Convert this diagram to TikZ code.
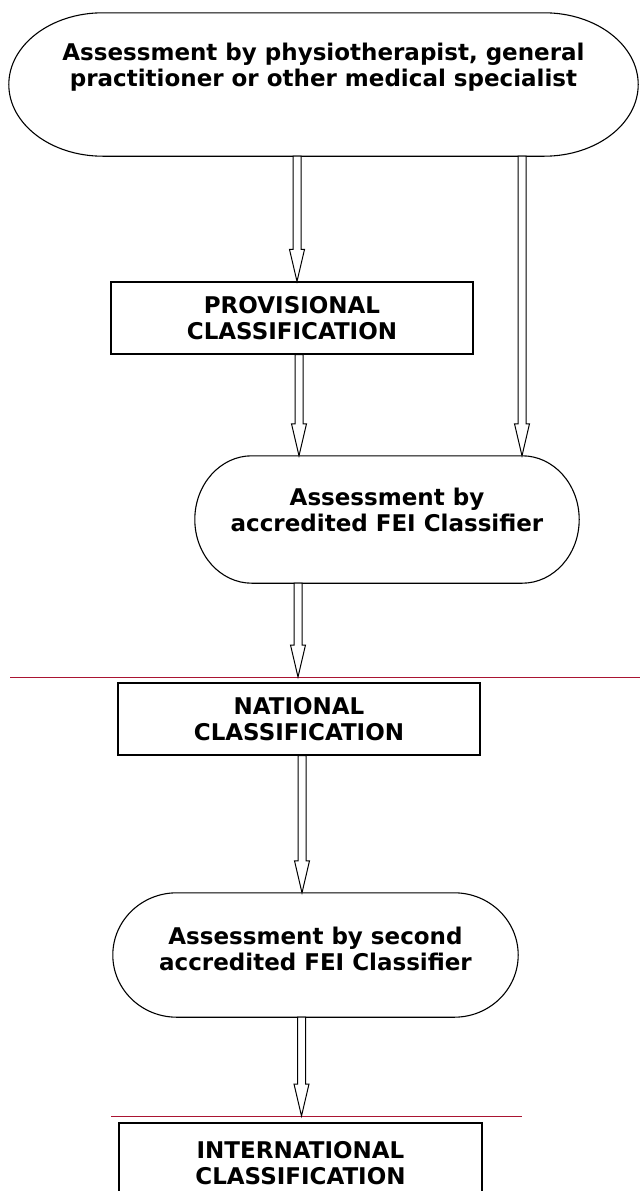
\documentclass[tikz,border=0pt]{standalone}
\usepackage{fontspec}
\setmainfont{DejaVu Sans}
\usetikzlibrary{calc}
\definecolor{rulered}{RGB}{170,20,50}
\tikzset{
  shapeline/.style={draw=black, line width=1.1pt, fill=white},
  arrowline/.style={draw=black, line width=1pt, fill=white, line join=miter},
  ruleline/.style={draw=rulered, line width=1pt},
  shapebox/.style={rectangle, draw=none, inner sep=0pt},
  rectbox/.style={rectangle, draw=black, line width=1.1pt, fill=white, inner sep=0pt, align=center},
  lbl/.style={align=center, inner sep=0pt}
}
\newcommand\harrow[2]{\draw[arrowline] let \p1=#1, \p2=#2 in
  (\x1-4pt,\y1) -- (\x1-4pt,\y2+32pt) -- (\x1-7.5pt,\y2+32pt) -- (\x1,\y2)
  -- (\x1+7.5pt,\y2+32pt) -- (\x1+4pt,\y2+32pt) -- (\x1+4pt,\y1) -- cycle;}
\newcommand\stadium[2]{\draw[shapeline] let \p1=(#1.north), \p2=(#1.south), \n1={(\y1-\y2)/2} in
  ([xshift=#2]#1.north west) -- ([xshift=-#2]#1.north east)
  arc[start angle=90, end angle=-90, x radius=#2, y radius=\n1]
  -- ([xshift=#2]#1.south west)
  arc[start angle=270, end angle=90, x radius=#2, y radius=\n1] -- cycle;}
\begin{document}
\begin{tikzpicture}[x=1pt, y=-1pt, font=\bfseries\fontsize{23}{26}\selectfont]
\useasboundingbox[fill=white] (0,0) rectangle (640,1191);

% shape geometry nodes
\node[shapebox, minimum width=629pt, minimum height=143pt] (s1) at (323.5,84.5) {};
\node[rectbox, minimum width=362pt, minimum height=72pt] (p) at (292,318) {PROVISIONAL\\CLASSIFICATION};
\node[shapebox, minimum width=384pt, minimum height=127pt] (m) at (387,519.5) {};
\coordinate (l1a) at (10,677);
\coordinate (l1b) at (640,677);
\node[rectbox, minimum width=362pt, minimum height=72pt] (n) at (299,719) {NATIONAL\\CLASSIFICATION};
\node[shapebox, minimum width=405pt, minimum height=124pt] (t) at (315.5,955) {};
\coordinate (l2a) at (111,1116);
\coordinate (l2b) at (522,1116);
\node[rectbox, minimum width=363pt, minimum height=80pt] (i) at (300.5,1163) {INTERNATIONAL\\CLASSIFICATION};

% stadium outlines
\stadium{s1}{94pt}
\stadium{m}{57pt}
\stadium{t}{64pt}

% stadium texts
\node[lbl] (s1t) at ([yshift=17pt]s1.center) {Assessment by physiotherapist, general\\practitioner or other medical specialist};
\node[lbl] (mt) at ([yshift=10pt]m.center) {Assessment by\\accredited FEI Classifier};
\node[lbl] (tt) at ([yshift=6pt]t.center) {Assessment by second\\accredited FEI Classifier};

% rules
\draw[ruleline] (l1a) -- (l1b);
\draw[ruleline] (l2a) -- (l2b);

% hollow arrows
\harrow{([xshift=-26.5pt]s1.south)}{([xshift=5pt]p.north)}
\harrow{([xshift=198.5pt]s1.south)}{([xshift=135pt]m.north)}
\harrow{([xshift=7pt]p.south)}{([xshift=-88pt]m.north)}
\harrow{([xshift=-89pt]m.south)}{(l1a)}
\harrow{([xshift=3pt]n.south)}{([xshift=-14pt]t.north)}
\harrow{([xshift=-14pt]t.south)}{(l2a)}
\end{tikzpicture}
\end{document}
